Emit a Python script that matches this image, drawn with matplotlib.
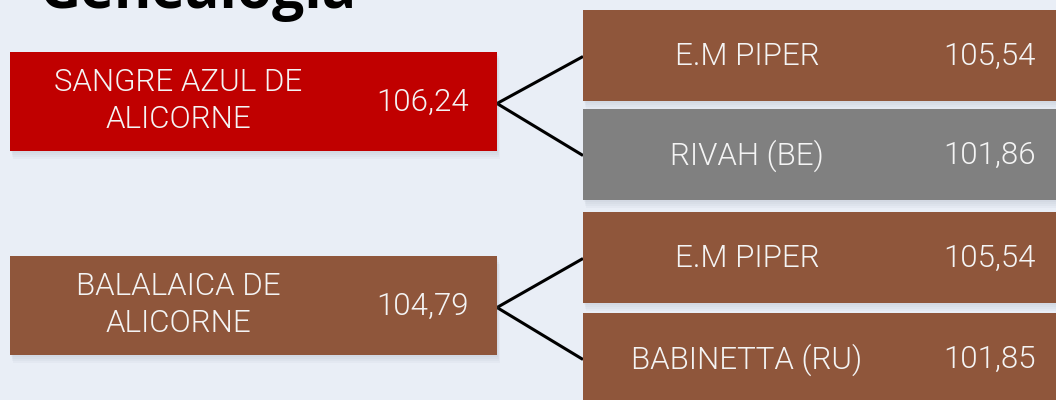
import matplotlib.pyplot as plt
from matplotlib.patches import Rectangle

# data
parents = ["SANGRE AZUL DE\nALICORNE", "BALALAICA DE\nALICORNE"]
parent_values = [106.24, 104.79]
sires = ["E.M PIPER", "E.M PIPER"]
sire_values = [105.54, 105.54]
dams = ["RIVAH (BE)", "BABINETTA (RU)"]
dam_values = [101.86, 101.85]

# styles
bg = "#E9EEF6"
parent_colors = ["#C00000", "#8F563B"]
sire_colors = ["#8F563B", "#8F563B"]
dam_colors = ["#808080", "#8F563B"]
txt_color = "#F4F4F4"
box_font = dict(family=["Roboto", "DejaVu Sans"], weight=300, fontsize=22.5, color=txt_color)

# layout in pixels
left_x0, left_x1 = 10, 497
right_x0, right_x1 = 583, 1070
parent_top = [52, 256]
parent_h = 99
child_top = [[10, 109], [212, 313]]
child_h = 91


def fmt(v):
    return f"{v:.2f}".replace(".", ",")


def box(ax, x0, y0, w, h, color):
    # soft drop shadow
    for i, a in enumerate([0.05, 0.05, 0.05, 0.05]):
        d = 2 + 2 * i
        ax.add_patch(Rectangle((x0 + d * 0.4, y0 + d), w, h, color="#7d8a9c", alpha=a, lw=0, zorder=1))
    ax.add_patch(Rectangle((x0, y0), w, h, color=color, lw=0, zorder=2))


fig = plt.figure(figsize=(10.56, 4), dpi=100)
fig.patch.set_facecolor(bg)
ax = fig.add_axes([0, 0, 1, 1])
ax.set_facecolor(bg)
ax.set_xlim(0, 1056)
ax.set_ylim(400, 0)
ax.axis("off")

ax.text(40, 8, "Genealogía", family=["Open Sans", "DejaVu Sans"], weight="bold",
        fontsize=41, color="black", ha="left", va="baseline")

for i in range(len(parents)):
    py = parent_top[i] + parent_h / 2
    box(ax, left_x0, parent_top[i], left_x1 - left_x0, parent_h, parent_colors[i])
    ax.text(left_x0 + 168, py - 0.5, parents[i], ha="center", va="center",
            linespacing=1.33, zorder=3, **box_font)
    ax.text(left_x1 - 28, py + 1, fmt(parent_values[i]), ha="right", va="center",
            zorder=3, **box_font)

    names = [sires[i], dams[i]]
    vals = [sire_values[i], dam_values[i]]
    cols = [sire_colors[i], dam_colors[i]]
    for j in range(2):
        cy = child_top[i][j] + child_h / 2
        box(ax, right_x0, child_top[i][j], right_x1 - right_x0, child_h, cols[j])
        ax.text(right_x0 + 164, cy + 1, names[j], ha="center", va="center", zorder=3, **box_font)
        ax.text(right_x0 + 453, cy + 1, fmt(vals[j]), ha="right", va="center", zorder=3, **box_font)
        ax.plot([left_x1, right_x0], [py + 2, cy + 1], color="black", lw=2.2,
                solid_capstyle="butt", zorder=0.5)

fig.savefig("out.png", dpi=100, facecolor=bg)
